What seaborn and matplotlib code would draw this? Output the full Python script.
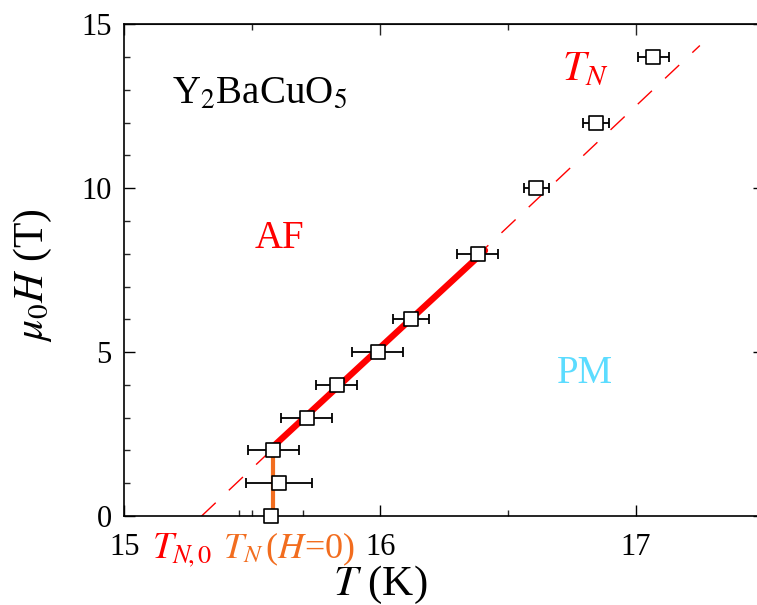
import pandas as pd
import seaborn as sns
import matplotlib
matplotlib.use('Agg')
import matplotlib.pyplot as plt

# measured points: field (T), transition temperature (K) and horizontal error
field_H = [0, 1, 2, 3, 4, 5, 6, 8, 10, 12, 14]
temp_T = [15.573, 15.604, 15.583, 15.713, 15.831, 15.991, 16.121, 16.381, 16.611, 16.845, 17.068]
temp_err = [0.0, 0.13, 0.10, 0.10, 0.08, 0.10, 0.07, 0.08, 0.05, 0.05, 0.06]

# linear T_N(H) line (dashed) and the fitted part (thick)
fit_T = [15.302, 17.25]
fit_H = [0.0, 14.35]
thick_T = [15.582, 16.41]
thick_H = [2.12, 8.1]

# T_N at zero field (vertical orange bar)
tn0_T = [15.582, 15.582]
tn0_H = [0.0, 2.12]

red = '#ff0000'
orange = '#f26d1f'
cyan = '#5cdcff'

sns.set_style('ticks')
plt.rcParams['font.family'] = ['Liberation Serif', 'DejaVu Serif']
plt.rcParams['mathtext.fontset'] = 'stix'
plt.rcParams['text.color'] = 'black'
plt.rcParams['axes.labelcolor'] = 'black'

df = pd.DataFrame({'T': temp_T, 'H': field_H, 'err': temp_err})

fig, ax = plt.subplots(figsize=(7.57, 6.05), dpi=100)
fig.subplots_adjust(left=0.1642, right=1.009, bottom=0.147, top=0.960)

sns.lineplot(x=fit_T, y=fit_H, ax=ax, color=red, lw=1.0, zorder=1)
ax.lines[-1].set_dashes((14, 13))
sns.lineplot(x=thick_T, y=thick_H, ax=ax, color=red, lw=4.6, zorder=2)
sns.lineplot(x=tn0_T, y=tn0_H, ax=ax, color=orange, lw=3.0, zorder=2, estimator=None, sort=False)

ax.errorbar(df['T'], df['H'], xerr=df['err'], fmt='none', ecolor='black',
            elinewidth=1.3, capsize=3.5, capthick=1.3, zorder=3)
sns.scatterplot(data=df, x='T', y='H', ax=ax, marker='s', s=95, color='white',
                edgecolor='black', linewidth=1.2, zorder=4, clip_on=False)

ax.set_xlim(15, 17.5)
ax.set_ylim(0, 15)

# ticks
ax.set_xticks([15, 16, 17])
ax.set_xticks([15.45, 15.5, 15.7, 16.5], minor=True)
ax.set_yticks([0, 5, 10, 15])
ax.set_yticks(range(0, 16), minor=True)
ax.tick_params(axis='both', which='major', direction='in', length=8, width=1.0,
               labelsize=22, colors='black')
ax.tick_params(axis='both', which='minor', direction='in', length=4, width=1.0)
ax.tick_params(axis='x', which='major', pad=12)
ax.tick_params(axis='y', which='major', pad=9, right=True)
ax.tick_params(axis='y', which='minor', right=False)

sec = ax.secondary_xaxis('top')
sec.set_xticks([15, 16, 17], labels=[])
sec.set_xticks([15.5, 16.5], minor=True)
sec.tick_params(which='major', direction='in', length=8, width=1.0)
sec.tick_params(which='minor', direction='in', length=4, width=1.0)

for sp in ax.spines.values():
    sp.set_linewidth(1.2)
    sp.set_visible(True)
    sp.set_color('black')

ax.set_xlabel(r'$T$ (K)', fontsize=31)
ax.xaxis.set_label_coords(0.40, -0.098)
ax.set_ylabel(r'$\mu_{\mathit{0}}H$ (T)', fontsize=30)
ax.yaxis.set_label_coords(-0.11, 0.49)

ax.text(15.186, 12.59, r'Y$_2$BaCuO$_5$', fontsize=28, ha='left', va='baseline')
ax.text(15.51, 8.17, 'AF', fontsize=28, color=red, ha='left', va='baseline')
ax.text(16.69, 4.05, 'PM', fontsize=28, color=cyan, ha='left', va='baseline')
ax.text(16.71, 13.29, r'$T_N$', fontsize=30, color=red, ha='left', va='baseline')
ax.text(15.11, -1.28, r'$T_{N\!,0}$', fontsize=27, color=red, ha='left', va='baseline', clip_on=False)
ax.text(15.385, -1.28, r'$T_N\,$($H$=0)', fontsize=26, color=orange, ha='left', va='baseline', clip_on=False)

fig.savefig('out.png', dpi=100)
